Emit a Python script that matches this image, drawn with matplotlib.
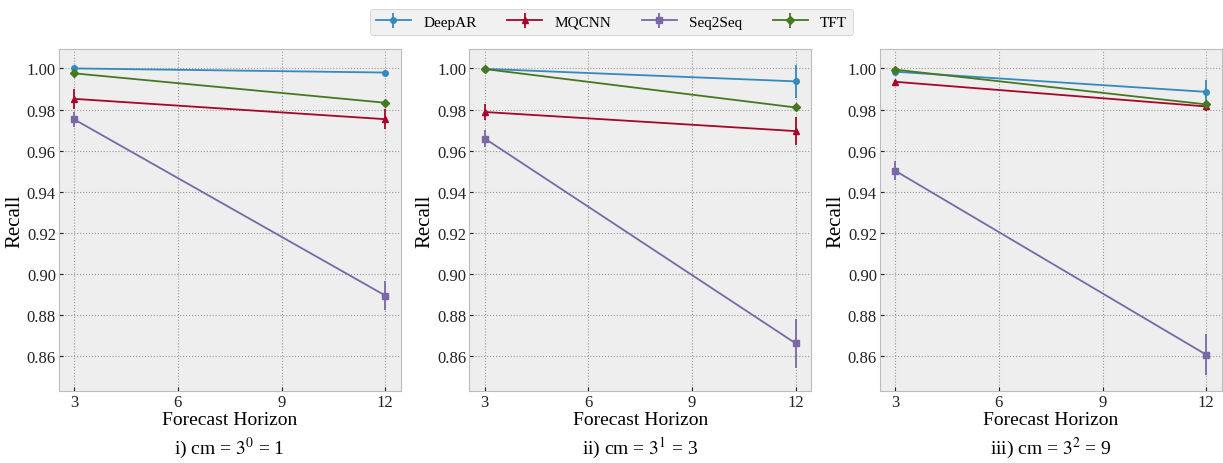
import matplotlib
matplotlib.use("Agg")
import matplotlib.pyplot as plt

plt.style.use("bmh")
plt.rcParams["font.family"] = ["Liberation Serif", "DejaVu Serif"]
plt.rcParams["mathtext.fontset"] = "stix"

horizons = [3, 12]
models = ["DeepAR", "MQCNN", "Seq2Seq", "TFT"]
captions = ["i) cm = $3^0$ = 1", "ii) cm = $3^1$ = 3", "iii) cm = $3^2$ = 9"]

# recall means per panel (cm=1, cm=3, cm=9), per model, at horizons 3 and 12
deepar_mean = [[1.000, 0.998], [0.9998, 0.9937], [0.9984, 0.9886]]
deepar_err = [[0.0003, 0.001], [0.0005, 0.008], [0.001, 0.006]]
mqcnn_mean = [[0.9852, 0.9753], [0.9788, 0.9695], [0.9935, 0.9815]]
mqcnn_err = [[0.005, 0.005], [0.004, 0.007], [0.001, 0.002]]
seq2seq_mean = [[0.9752, 0.8895], [0.9659, 0.8662], [0.9502, 0.8607]]
seq2seq_err = [[0.0035, 0.007], [0.004, 0.0118], [0.0047, 0.010]]
tft_mean = [[0.9976, 0.9833], [0.9997, 0.9810], [0.9994, 0.9825]]
tft_err = [[0.0005, 0.001], [0.0005, 0.0015], [0.001, 0.0015]]

means = [deepar_mean, mqcnn_mean, seq2seq_mean, tft_mean]
errs = [deepar_err, mqcnn_err, seq2seq_err, tft_err]
colors = ["#348ABD", "#A60628", "#7A68A6", "#467821"]
markers = ["o", "^", "s", "D"]

fig, axes = plt.subplots(1, 3, figsize=(12.23, 4.64), dpi=100)
fig.subplots_adjust(left=0.048, right=0.999, top=0.892, bottom=0.155, wspace=0.2)

for i, ax in enumerate(axes):
    ax.set_facecolor("#eeeeee")
    for name, m, e, c, mk in zip(models, means, errs, colors, markers):
        ax.errorbar(horizons, m[i], yerr=e[i], color=c, marker=mk, markersize=4,
                    linewidth=1.3, elinewidth=1.3, capsize=0, label=name)
    ax.set_xticks([3, 6, 9, 12])
    ax.set_xlim(2.55, 12.45)
    ax.set_ylim(0.843, 1.0094)
    ax.set_yticks([0.86, 0.88, 0.90, 0.92, 0.94, 0.96, 0.98, 1.00])
    ax.grid(True, linestyle=":", color="#999999", linewidth=0.8)
    ax.tick_params(labelsize=12, colors="#222222", length=3, pad=2)
    for sp in ax.spines.values():
        sp.set_color("#bcbcbc")
    ax.set_xlabel("Forecast Horizon", fontsize=14, labelpad=1)
    ax.set_ylabel("Recall", fontsize=15, labelpad=2)
    ax.text(0.5, -0.164, captions[i], transform=ax.transAxes, ha="center",
            va="center", fontsize=14)

handles, labels = axes[0].get_legend_handles_labels()
leg = fig.legend(handles, labels, loc="upper center", ncol=4, fontsize=11,
                 bbox_to_anchor=(0.5, 0.995), frameon=True, columnspacing=2.0,
                 handlelength=2.3)
leg.get_frame().set_facecolor("#eeeeee")
leg.get_frame().set_edgecolor("#bcbcbc")

fig.savefig("out.png", dpi=100)
